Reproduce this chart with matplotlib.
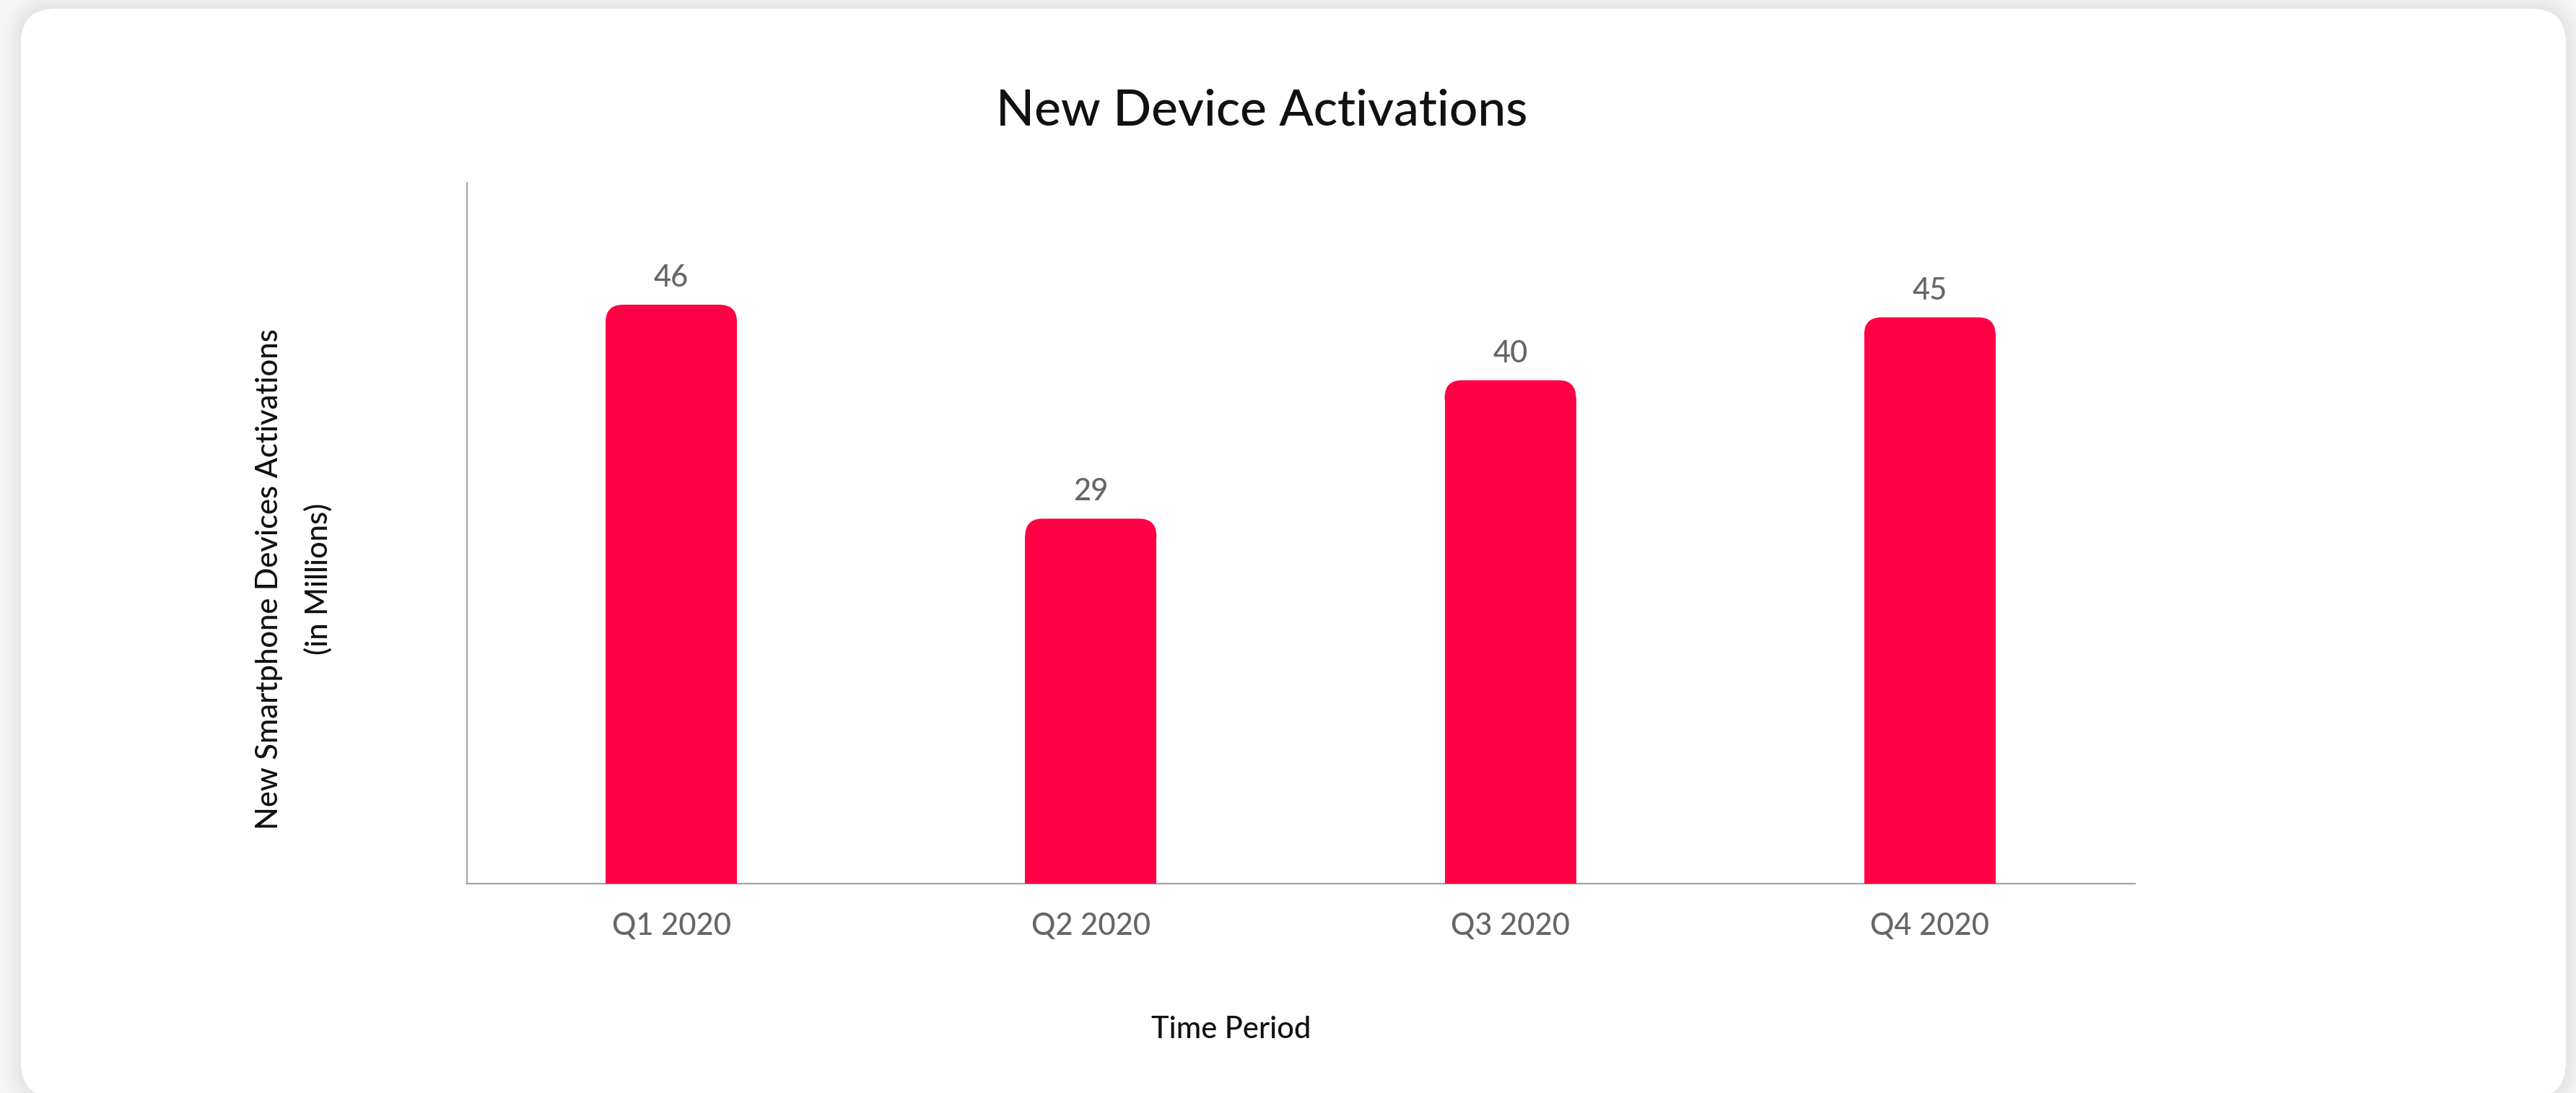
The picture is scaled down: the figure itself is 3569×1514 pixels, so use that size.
import matplotlib
matplotlib.use("Agg")
import matplotlib.pyplot as plt
from matplotlib.patches import FancyBboxPatch
from matplotlib.transforms import IdentityTransform

# ---- data ----
quarters = ["Q1 2020", "Q2 2020", "Q3 2020", "Q4 2020"]
activations = [46, 29, 40, 45]

title = "New Device Activations"
x_label = "Time Period"
y_label = "New Smartphone Devices Activations\n(in Millions)"

# ---- style ----
BAR_COLOR = "#FF0044"
LABEL_GRAY = "#666666"
DARK = "#111111"
AXIS_GRAY = "#a3a3a3"
plt.rcParams["font.family"] = ["Lato", "DejaVu Sans"]

W, H, DPI = 3569, 1514, 100
fig = plt.figure(figsize=(W / DPI, H / DPI), dpi=DPI)
fig.patch.set_facecolor("#f5f5f5")

# card with soft shadow (pixel coords)
card_x, card_y, card_w, card_h = 29, -6, 3526, 1508
for i, a in enumerate([0.006, 0.008, 0.01, 0.012, 0.014]):
    grow = 25 - i * 5
    fig.add_artist(FancyBboxPatch(
        (card_x - grow, card_y - grow), card_w + 2 * grow, card_h + 2 * grow,
        boxstyle=f"round,pad=0,rounding_size={48 + grow}",
        transform=IdentityTransform(), facecolor="black", edgecolor="none",
        alpha=a, zorder=0))
fig.add_artist(FancyBboxPatch(
    (card_x, card_y), card_w, card_h,
    boxstyle="round,pad=0,rounding_size=48",
    transform=IdentityTransform(), facecolor="white", edgecolor="none", zorder=0))

# ---- axes ----
ax = fig.add_axes([647 / W, 1 - 1224 / H, (2958 - 647) / W, (1224 - 253) / H])
ax.set_facecolor("none")
ax.set_zorder(2)

x = list(range(len(quarters)))
bar_w = 0.313
bars = ax.bar(x, activations, width=bar_w, color=BAR_COLOR, zorder=3)

ax.set_xlim(-0.487, 3.489)
ax.set_ylim(0, 55.7)

# round only the top corners of each bar
rx = 24 / 581.3
ry = 24 / 17.43
for rect, v in zip(bars, activations):
    rect.set_height(v - ry)
    ax.add_patch(FancyBboxPatch(
        (rect.get_x(), v - 2 * ry), rect.get_width(), 2 * ry,
        boxstyle=f"round,pad=0,rounding_size={rx}",
        mutation_aspect=ry / rx, facecolor=BAR_COLOR, edgecolor="none", zorder=3))
    ax.annotate(str(v), (rect.get_x() + rect.get_width() / 2, v),
                xytext=(0, 18), textcoords="offset points",
                ha="center", va="baseline", fontsize=30, color=LABEL_GRAY,
                fontweight="medium")

for side in ["top", "right"]:
    ax.spines[side].set_visible(False)
for side in ["left", "bottom"]:
    ax.spines[side].set_color(AXIS_GRAY)
    ax.spines[side].set_linewidth(1.6)

ax.set_xticks(x)
ax.set_xticklabels(quarters, fontsize=30, color=LABEL_GRAY, fontweight="medium")
ax.tick_params(axis="x", length=0, pad=29)
ax.set_yticks([])

# ---- texts ----
fig.text(1748 / W, 1 - 173 / H, title, ha="center", va="baseline",
         fontsize=50, color=DARK, fontweight="medium")
fig.text(1706 / W, 1 - 1438 / H, x_label, ha="center", va="baseline",
         fontsize=30, color=DARK, fontweight="medium")
fig.text(407 / W, 1 - 802 / H, y_label, ha="center", va="center",
         rotation=90, multialignment="center", linespacing=1.9,
         fontsize=30, color=DARK, fontweight="medium")

fig.savefig("out.png", dpi=DPI, facecolor=fig.get_facecolor())
